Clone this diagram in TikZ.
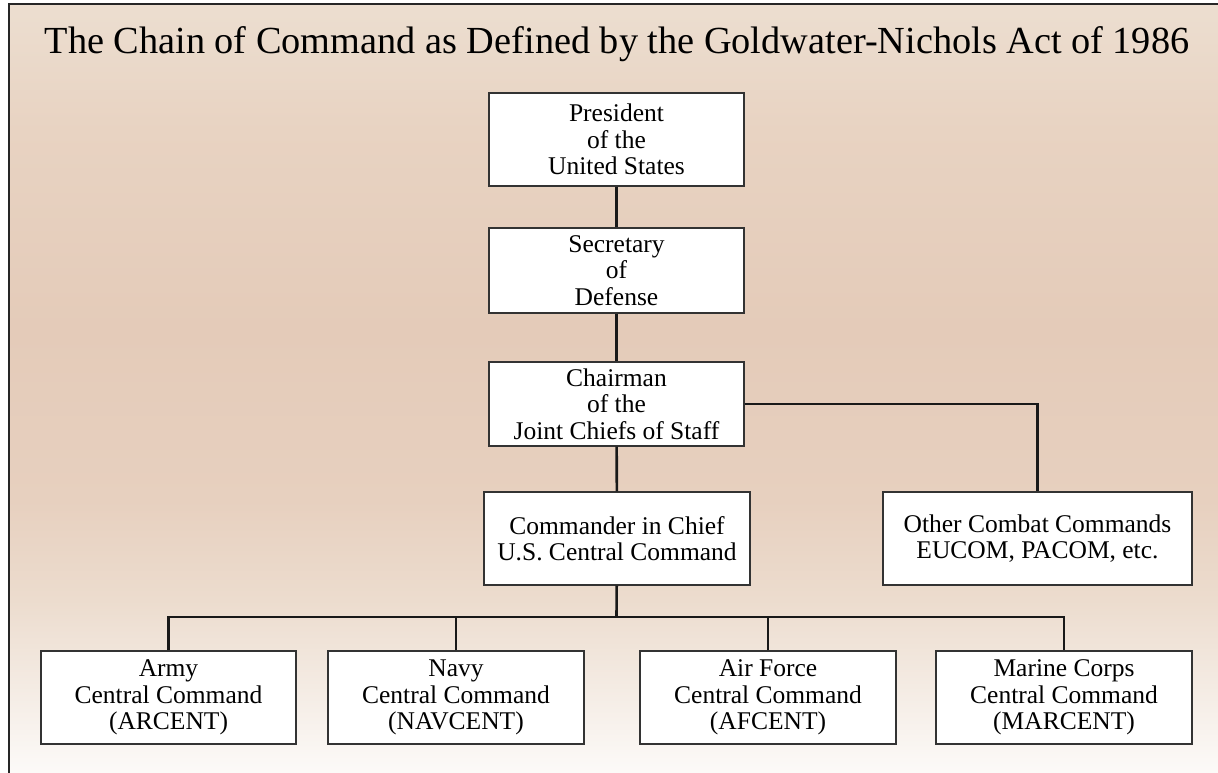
\documentclass[tikz,border=0pt]{standalone}
\usepackage{fontspec}
\setmainfont{Liberation Serif}
\definecolor{bgA}{RGB}{252,250,248}
\definecolor{bgB}{RGB}{236,220,206}
\definecolor{bgC}{RGB}{231,208,191}
\definecolor{bgD}{RGB}{228,203,185}
\definecolor{bgE}{RGB}{232,211,194}
\definecolor{bgF}{RGB}{236,222,208}
\pgfdeclareverticalshading{paper}{100bp}{color(0bp)=(bgA); color(25bp)=(bgA);
  color(36.2bp)=(bgB); color(42.7bp)=(bgC); color(53.75bp)=(bgD);
  color(66.8bp)=(bgE); color(75bp)=(bgF); color(100bp)=(bgF)}
\begin{document}
\begin{tikzpicture}[x=1pt,y=-1pt,
    box/.style={draw=black!80,line width=1.3pt,fill=white,align=center,
      inner sep=0pt,font=\fontsize{25.5}{26.5}\selectfont},
    link/.style={line width=2.6pt,black!90}]
  \useasboundingbox (0,0) rectangle (1218,772);
  \shade[shading=paper] (9,4) rectangle (1218,772);
  \draw[line width=1.6pt,black!85] (1230,4) -- (9,4) -- (9,790);
  \node (title) at (617,44) {\fontsize{38.3}{42}\selectfont The Chain of Command as Defined by the Goldwater-Nichols Act of 1986};
  \draw
    (616.5,139.5) node[box,minimum width=255pt,minimum height=93pt] (president){President\\of the\\United States}
    (616.5,270.5) node[box,minimum width=255pt,minimum height=85pt] (secdef){Secretary\\of\\Defense}
    (616.5,404) node[box,minimum width=255pt,minimum height=84pt] (chairman){Chairman\\of the\\Joint Chiefs of Staff}
    (617,538.5) node[box,minimum width=266pt,minimum height=93pt] (cinc){Commander in Chief\\U.S. Central Command}
    (1037.5,538.5) node[box,minimum width=309pt,minimum height=93pt] (other){Other Combat Commands\\EUCOM, PACOM, etc.}
    (168.5,697.5) node[box,minimum width=255pt,minimum height=93pt] (army){Army\\Central Command\\(ARCENT)}
    (456,697.5) node[box,minimum width=256pt,minimum height=93pt] (navy){Navy\\Central Command\\(NAVCENT)}
    (768,697.5) node[box,minimum width=256pt,minimum height=93pt] (airforce){Air Force\\Central Command\\(AFCENT)}
    (1064,697.5) node[box,minimum width=256pt,minimum height=93pt] (marine){Marine Corps\\Central Command\\(MARCENT)};
  \coordinate (bus) at (616.5,617);
  \begin{scope}[link]
    \draw (president) to (secdef);
    \draw (secdef) to (chairman);
    \draw (chairman) to (cinc);
    \draw (chairman.east) -| (other.north);
    \draw (cinc) to (bus);
    \draw (army.north) |- (bus) -| (marine.north);
    \draw (navy.north) to (navy.north |- bus);
    \draw (airforce.north) to (airforce.north |- bus);
  \end{scope}
\end{tikzpicture}
\end{document}
